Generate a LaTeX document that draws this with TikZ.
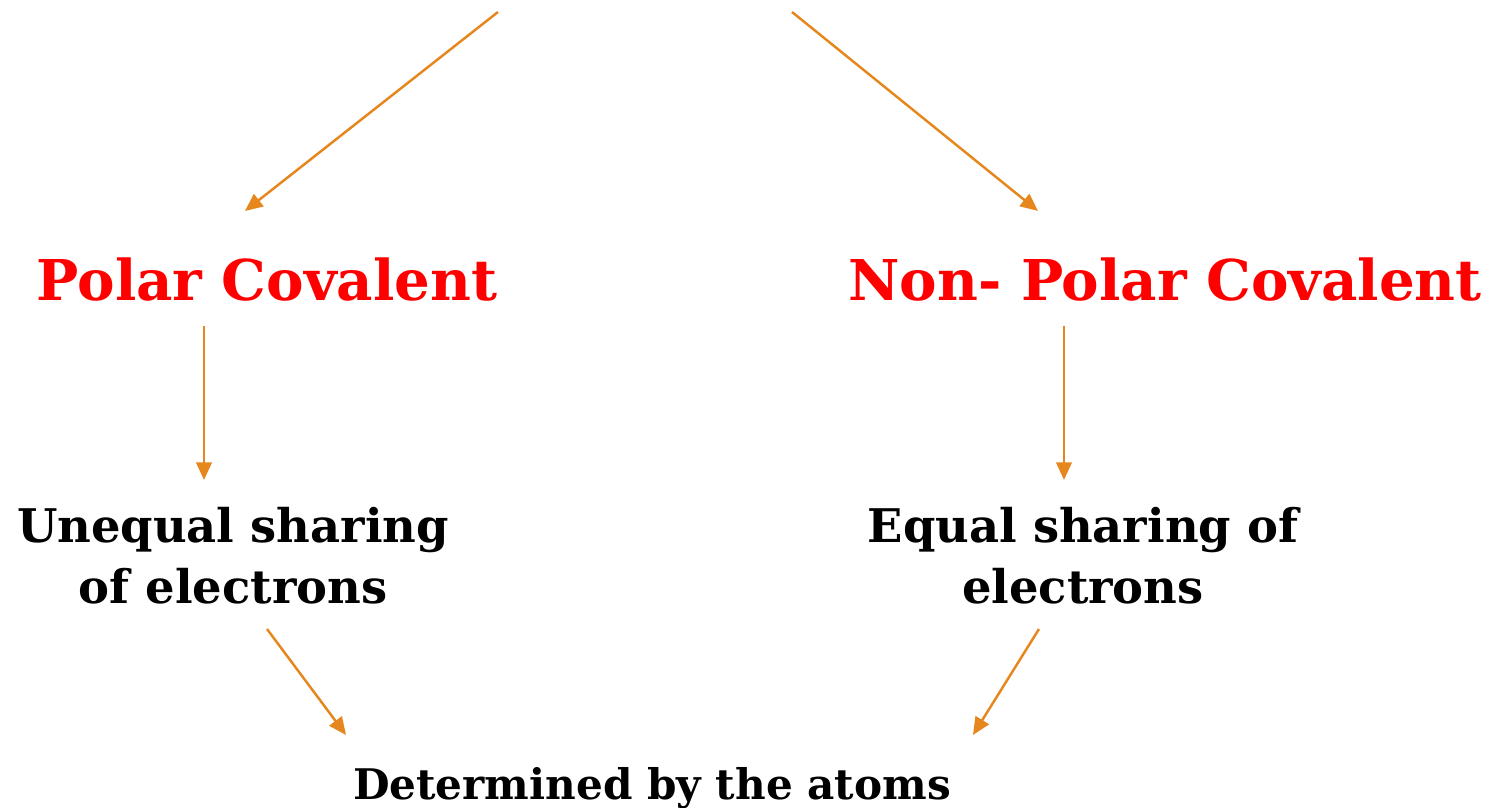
\documentclass[tikz,border=0pt]{standalone}
\usepackage{fontspec}
\setmainfont{DejaVu Serif}
\usepackage{xcolor}
\usetikzlibrary{arrows.meta}

\definecolor{arrorange}{RGB}{230,135,30}
\definecolor{titlered}{RGB}{255,0,0}

\begin{document}
\begin{tikzpicture}[
    title/.style={font=\fontsize{16}{20}\selectfont\bfseries, text=titlered, anchor=base, inner sep=0pt},
    desc/.style={font=\fontsize{13.2}{17.4}\selectfont\bfseries, align=center, inner sep=0pt},
    arr/.style={-{Triangle[length=5pt, width=4.4pt]}, arrorange, line width=0.7pt}
]
\useasboundingbox (0,0) rectangle (14.88,8.08);

% bond types
\node[title] (polar) at (2.67,5.07) {Polar Covalent};
\node[title] (nonpolar) at (11.65,5.07) {Non- Polar Covalent};

% what the bond means
\node[desc] (unequal) at (2.33,2.52) {Unequal sharing\\of electrons};
\node[desc] (equal) at (10.83,2.52) {Equal sharing of\\electrons};
\node[desc, font=\fontsize{12}{15}\selectfont\bfseries, anchor=base] (atoms) at (6.52,0.08) {Determined by the atoms};

% arrow ends
\coordinate (topl) at (4.98,7.96);
\coordinate (topr) at (7.92,7.96);
\coordinate (polarin) at (2.45,5.97);
\coordinate (nonpolarin) at (10.38,5.97);
\coordinate (polarout) at (2.04,4.82);
\coordinate (nonpolarout) at (10.64,4.82);
\coordinate (unequalin) at (2.04,3.28);
\coordinate (equalin) at (10.64,3.28);
\coordinate (unequalout) at (2.67,1.79);
\coordinate (equalout) at (10.39,1.79);
\coordinate (atomsl) at (3.46,0.73);
\coordinate (atomsr) at (9.73,0.73);

\draw[arr] (topl) -- (polarin);
\draw[arr] (topr) -- (nonpolarin);
\draw[arr] (polarout) -- (unequalin);
\draw[arr] (nonpolarout) -- (equalin);
\draw[arr] (unequalout) -- (atomsl);
\draw[arr] (equalout) -- (atomsr);
\end{tikzpicture}
\end{document}
